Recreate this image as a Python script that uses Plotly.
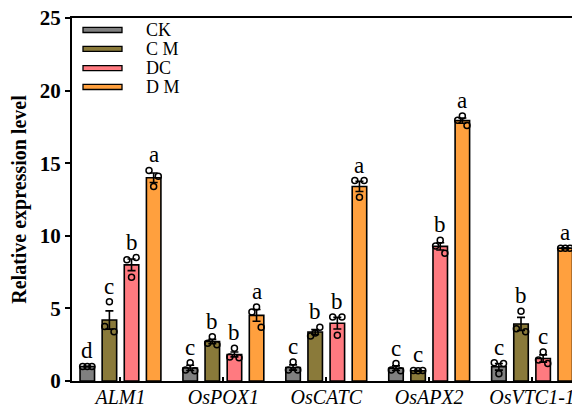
import plotly.graph_objects as go

# Genes on the x axis
genes = ["ALM1", "OsPOX1", "OsCATC", "OsAPX2", "OsVTC1-1"]
treatments = ["CK", "CM", "DC", "DM"]
legend_labels = ["CK", "C M", "DC", "D M"]

# Mean relative expression per treatment (one value per gene)
ck_mean = [1.00, 0.90, 0.93, 0.88, 0.98]
cm_mean = [4.20, 2.72, 3.37, 0.71, 3.93]
dc_mean = [8.00, 1.83, 3.98, 9.27, 1.55]
dm_mean = [14.00, 4.52, 13.40, 17.93, 9.15]

# Standard errors
ck_se = [0.02, 0.18, 0.18, 0.16, 0.23]
cm_se = [0.63, 0.15, 0.17, 0.03, 0.45]
dc_se = [0.40, 0.17, 0.40, 0.25, 0.25]
dm_se = [0.33, 0.40, 0.35, 0.18, 0.03]

# Biological replicates (three per gene)
ck_reps = [[1.00, 1.00, 1.00], [0.75, 1.25, 0.70], [0.75, 1.30, 0.75], [0.75, 1.20, 0.70], [1.25, 0.50, 1.20]]
cm_reps = [[3.75, 5.45, 3.40], [2.60, 3.05, 2.50], [3.10, 3.30, 3.70], [0.72, 0.70, 0.72], [3.60, 4.80, 3.40]]
dc_reps = [[8.35, 7.15, 8.50], [1.65, 2.25, 1.60], [4.40, 3.15, 4.40], [9.30, 9.70, 8.80], [1.45, 2.00, 1.20]]
dm_reps = [[14.50, 13.40, 14.10], [4.75, 5.10, 3.70], [13.80, 12.65, 13.80], [17.95, 18.25, 17.60], [9.15, 9.15, 9.15]]

# Significance letters
ck_sig = ["d", "c", "c", "c", "c"]
cm_sig = ["c", "b", "b", "c", "b"]
dc_sig = ["b", "b", "b", "b", "c"]
dm_sig = ["a", "a", "a", "a", "a"]

y_ticks = [0, 5, 10, 15, 20, 25]

means = [ck_mean, cm_mean, dc_mean, dm_mean]
ses = [ck_se, cm_se, dc_se, dm_se]
reps = [ck_reps, cm_reps, dc_reps, dm_reps]
sigs = [ck_sig, cm_sig, dc_sig, dm_sig]
colors = ["#808080", "#8a7a3a", "#ff7a80", "#ffa03e"]

SERIF = "Liberation Serif, Times New Roman, serif"
bar_w = 0.141
step = 0.215
shifts = [(k - 1.5) * step for k in range(4)]
jitter = [-0.045, 0.0, 0.045]

fig = go.Figure()
annotations = []
shapes = []

for k in range(4):
    xs = [i + shifts[k] for i in range(len(genes))]
    fig.add_trace(go.Bar(
        x=xs, y=means[k], width=bar_w, name=treatments[k],
        marker=dict(color=colors[k], line=dict(color="black", width=1.6)),
        error_y=dict(type="data", array=ses[k], visible=True,
                     color="black", thickness=1.6, width=4),
        showlegend=False,
    ))
    px, py = [], []
    for i in range(len(genes)):
        for j, v in enumerate(reps[k][i]):
            px.append(xs[i] + jitter[j])
            py.append(v)
    fig.add_trace(go.Scatter(
        x=px, y=py, mode="markers", showlegend=False,
        marker=dict(symbol="circle-open", size=6, color="black",
                    line=dict(color="black", width=1.5)),
    ))
    for i in range(len(genes)):
        top = max(means[k][i] + ses[k][i], max(reps[k][i]))
        annotations.append(dict(
            x=xs[i], y=top, xref="x", yref="y", text=sigs[k][i],
            showarrow=False, yanchor="bottom", yshift=1,
            font=dict(family=SERIF, size=23, color="black"),
        ))

# Legend drawn as flat bars with labels
leg_y = [0.967, 0.915, 0.862, 0.810]
for k in range(4):
    shapes.append(dict(
        type="rect", xref="paper", yref="paper",
        x0=0.022, x1=0.100, y0=leg_y[k] - 0.007, y1=leg_y[k] + 0.007,
        fillcolor=colors[k], line=dict(color="black", width=1.3),
    ))
    annotations.append(dict(
        x=0.144, y=leg_y[k], xref="paper", yref="paper", text=legend_labels[k],
        showarrow=False, xanchor="left", yanchor="middle",
        font=dict(family=SERIF, size=18, color="black"),
    ))

fig.update_layout(
    width=572, height=408,
    margin=dict(l=72, r=0, t=18, b=27),
    paper_bgcolor="white", plot_bgcolor="white",
    barmode="overlay",
    annotations=annotations, shapes=shapes,
    font=dict(family=SERIF, color="black"),
)

fig.update_xaxes(
    range=[-0.471, 4.388],
    tickvals=list(range(len(genes))),
    ticktext=[f"<i>{g}</i>" for g in genes],
    tickfont=dict(family=SERIF, size=20, color="black"),
    ticklabeloverflow="allow", automargin=False, ticklabelstandoff=-3,
    ticks="inside", ticklen=4, tickwidth=1.5, tickcolor="black",
    showline=True, linecolor="black", linewidth=2, mirror=True,
    showgrid=False, zeroline=False,
)
fig.update_yaxes(
    range=[0, 25],
    tickvals=y_ticks,
    ticktext=[f"<b>{t}</b>" for t in y_ticks],
    tickfont=dict(family=SERIF, size=21, color="black"),
    ticks="outside", ticklen=5, tickwidth=2, tickcolor="black",
    showline=True, linecolor="black", linewidth=2, mirror=False,
    showgrid=False, zeroline=False, automargin=False,
    title=dict(text="<b>Relative expression level</b>",
               font=dict(family=SERIF, size=20, color="black"), standoff=8),
)

fig.write_html("out.html", config={"displayModeBar": False})
